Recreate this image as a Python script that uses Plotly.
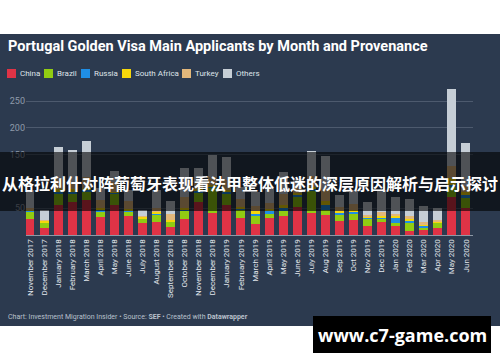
import plotly.graph_objects as go

months = ["November 2017", "December 2017", "January 2018", "February 2018", "March 2018",
          "April 2018", "May 2018", "June 2018", "July 2018", "August 2018", "September 2018",
          "October 2018", "November 2018", "December 2018", "January 2019", "February 2019",
          "March 2019", "April 2019", "May 2019", "June 2019", "July 2019", "Aug 2019",
          "Sep 2019", "Oct 2019", "Nov 2019", "Dec 2019", "Jan 2020", "Feb 2020",
          "Mar 2020", "Apr 2020", "May 2020", "Jun 2020"]

china        = [30, 14, 56, 62, 65, 34, 56, 36, 22, 25, 15, 30, 62, 42, 56, 31,
                20, 31, 35, 52, 42, 37, 26, 28, 17, 25, 17, 8, 11, 14, 71, 50]
brazil       = [13, 9, 22, 16, 16, 10, 21, 8, 8, 12, 10, 15, 18, 45, 22, 16,
                15, 10, 10, 20, 40, 9, 13, 12, 13, 5, 5, 15, 3, 9, 18, 20]
russia       = [2, 1, 3, 3, 3, 3, 2, 2, 1, 4, 1, 3, 3, 4, 3, 3,
                6, 3, 6, 3, 4, 10, 3, 4, 2, 2, 11, 3, 3, 1, 4, 5]
south_africa = [2, 3, 4, 4, 4, 3, 2, 3, 3, 2, 2, 3, 2, 3, 3, 3,
                3, 4, 5, 3, 4, 8, 2, 3, 2, 3, 3, 4, 2, 2, 14, 5]
turkey       = [4, 1, 20, 14, 20, 15, 18, 15, 1, 8, 12, 20, 12, 15, 18, 15,
                10, 12, 20, 10, 20, 22, 8, 10, 4, 8, 4, 5, 6, 2, 22, 12]
others       = [33, 19, 60, 60, 67, 23, 20, 20, 11, 33, 23, 54, 28, 40, 44, 22,
                26, 28, 42, 17, 47, 61, 23, 27, 24, 41, 31, 33, 29, 22, 143, 80]

series_names = ["China", "Brazil", "Russia", "South Africa", "Turkey", "Others"]
series_vals = [china, brazil, russia, south_africa, turkey, others]
series_colors = ["#df3346", "#91cc12", "#1f8ee6", "#f6d70b", "#e2b77b", "#c6ced6"]

y_ticks = [0, 50, 100, 150, 200, 250]
y_tick_text = ["", "50", "", "150", "200", "250"]

BG = "#2c3a4f"
W, H = 500, 362
L, R, T, B = 26, 473, 85, 235


def px_x(px):
    return (px - L) / (R - L)


def px_y(py):
    return (B - py) / (B - T)


fig = go.Figure()
for name, vals, col in zip(series_names, series_vals, series_colors):
    fig.add_trace(go.Bar(x=months, y=vals, name=name, marker_color=col,
                         marker_line_width=0, showlegend=False))

shapes = [
    dict(type="rect", xref="paper", yref="paper", x0=px_x(0), x1=px_x(500),
         y0=px_y(34), y1=px_y(326), fillcolor=BG, line_width=0, layer="below"),
    dict(type="rect", xref="paper", yref="paper", x0=px_x(0), x1=px_x(500),
         y0=px_y(211), y1=px_y(152), fillcolor="rgba(0,0,0,0.6)", line_width=0, layer="above"),
    dict(type="rect", xref="paper", yref="paper", x0=px_x(313), x1=px_x(491),
         y0=px_y(353), y1=px_y(316), fillcolor="#000000", line_width=0, layer="above"),
]

annotations = [
    dict(text="<b>Portugal Golden Visa Main Applicants by Month and Provenance</b>",
         xref="paper", yref="paper", x=px_x(6), y=px_y(46), xanchor="left", yanchor="middle",
         showarrow=False, font=dict(family="Roboto", size=14.5, color="#ffffff")),
    dict(text="Chart: Investment Migration Insider • Source: <b>SEF</b> • Created with <b>Datawrapper</b>",
         xref="paper", yref="paper", x=px_x(6), y=px_y(317), xanchor="left", yanchor="middle",
         showarrow=False, font=dict(family="Roboto", size=7, color="#b9c1cc")),
    dict(text="<b>从格拉利什对阵葡萄牙表现看法甲整体低迷的深层原因解析与启示探讨</b>",
         xref="paper", yref="paper", x=px_x(250), y=px_y(183), xanchor="center", yanchor="middle",
         showarrow=False, font=dict(family="Noto Sans CJK SC", size=16, color="#ffffff")),
    dict(text="<b>www.c7-game.com</b>",
         xref="paper", yref="paper", x=px_x(402), y=px_y(335), xanchor="center", yanchor="middle",
         showarrow=False, font=dict(family="Open Sans", size=18, color="#ffffff")),
]

legend_sq = [7, 44, 81, 122, 182, 223]
for name, col, sx in zip(series_names, series_colors, legend_sq):
    shapes.append(dict(type="rect", xref="paper", yref="paper", x0=px_x(sx), x1=px_x(sx + 9),
                       y0=px_y(78), y1=px_y(69), fillcolor=col, line_width=0, layer="above"))
    annotations.append(dict(text=name, xref="paper", yref="paper", x=px_x(sx + 11), y=px_y(73.5),
                            xanchor="left", yanchor="middle", showarrow=False,
                            font=dict(family="Roboto", size=8, color="#dfe3e8")))

fig.update_layout(
    width=W, height=H,
    margin=dict(l=L, r=W - R, t=T, b=H - B, pad=0),
    paper_bgcolor="#ffffff", plot_bgcolor="rgba(0,0,0,0)",
    barmode="stack", bargap=0.36,
    shapes=shapes, annotations=annotations,
    font=dict(family="Roboto"),
    xaxis=dict(type="category", range=[-0.284, 31.5], tickangle=-90, showgrid=False,
               showline=True, linecolor="#8e98a6", linewidth=1, ticks="",
               tickfont=dict(family="Roboto", size=8, color="#e4e8ee"), automargin=False),
    yaxis=dict(range=[0, 280], tickvals=y_ticks, ticktext=y_tick_text,
               showgrid=True, gridcolor="#4d5a6e", gridwidth=1, zeroline=False, ticks="",
               tickfont=dict(family="Roboto", size=9, color="#8f9aab"), automargin=False),
)

fig.write_html("out.html", config={"displayModeBar": False},
               post_script="document.body.style.margin='0';")
